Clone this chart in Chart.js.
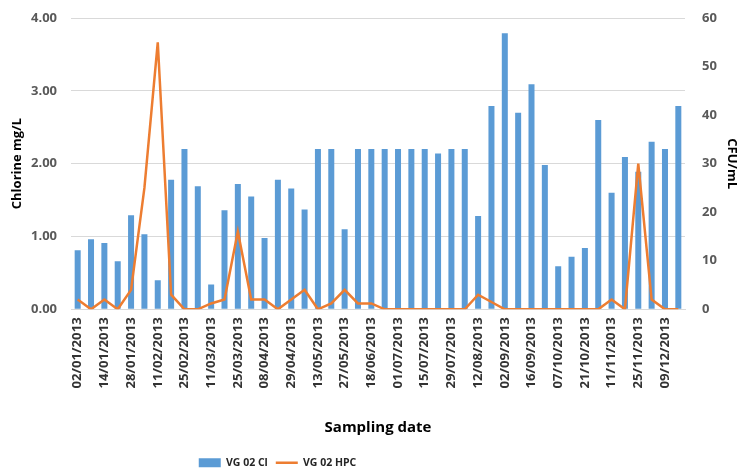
<!DOCTYPE html>
<html>
<head>
<meta charset="utf-8">
<script src="https://cdn.jsdelivr.net/npm/chart.js@4/dist/chart.umd.min.js"></script>
<style>
  html, body { margin: 0; padding: 0; background: #fff; }
  #chart { display: block; }
</style>
</head>
<body>
<canvas id="chart" width="737" height="471"></canvas>
<script>
// sampling dates (only every other one is labelled on the axis)
const dates = [
  '02/01/2013', '08/01/2013', '14/01/2013', '21/01/2013', '28/01/2013', '04/02/2013',
  '11/02/2013', '18/02/2013', '25/02/2013', '04/03/2013', '11/03/2013', '18/03/2013',
  '25/03/2013', '02/04/2013', '08/04/2013', '15/04/2013', '29/04/2013', '06/05/2013',
  '13/05/2013', '20/05/2013', '27/05/2013', '04/06/2013', '18/06/2013', '24/06/2013',
  '01/07/2013', '08/07/2013', '15/07/2013', '22/07/2013', '29/07/2013', '05/08/2013',
  '12/08/2013', '19/08/2013', '02/09/2013', '09/09/2013', '16/09/2013', '23/09/2013',
  '07/10/2013', '14/10/2013', '21/10/2013', '04/11/2013', '11/11/2013', '18/11/2013',
  '25/11/2013', '02/12/2013', '09/12/2013', '16/12/2013'
];

// chlorine, mg/L (left axis)
const chlorine = [
  0.81, 0.96, 0.91, 0.66, 1.29, 1.03, 0.40, 1.78, 2.20, 1.69, 0.34, 1.36,
  1.72, 1.55, 0.98, 1.78, 1.66, 1.37, 2.20, 2.20, 1.10, 2.20, 2.20, 2.20,
  2.20, 2.20, 2.20, 2.14, 2.20, 2.20, 1.28, 2.79, 3.79, 2.70, 3.09, 1.98,
  0.59, 0.72, 0.84, 2.60, 1.60, 2.09, 1.89, 2.30, 2.20, 2.79
];

// heterotrophic plate count, CFU/mL (right axis)
const hpc = [
  2, 0, 2, 0, 4, 25, 55, 3, 0, 0, 1.2, 2,
  16, 2, 2, 0, 2, 4, 0, 1.2, 4, 1.2, 1.2, 0,
  0, 0, 0, 0, 0, 0, 3, 1.5, 0, 0, 0, 0,
  0, 0, 0, 0, 2, 0, 30, 2, 0, 0
];

const tickFont = { family: 'Open Sans', size: 13, weight: 'bold' };
const titleFont = { family: 'Open Sans', size: 13, weight: 'bold' };

// Excel put the legend a bit left of centre, nudge it the same way
const legendShift = {
  id: 'legendShift',
  afterLayout(chart) {
    chart.legend.left -= 97;
    chart.legend.right -= 97;
  }
};

new Chart(document.getElementById('chart').getContext('2d'), {
  data: {
    labels: dates,
    datasets: [
      {
        type: 'bar',
        label: 'VG 02 Cl',
        data: chlorine,
        backgroundColor: '#5b9bd5',
        yAxisID: 'y',
        barPercentage: 0.45,
        categoryPercentage: 1,
        order: 1
      },
      {
        type: 'line',
        label: 'VG 02 HPC',
        data: hpc,
        borderColor: '#ed7d31',
        backgroundColor: '#ed7d31',
        borderWidth: 2.5,
        pointRadius: 0,
        tension: 0,
        yAxisID: 'y1',
        order: 0
      }
    ]
  },
  plugins: [legendShift],
  options: {
    responsive: false,
    animation: false,
    layout: { padding: { left: 9, right: -3, top: 18, bottom: -7 } },
    plugins: {
      tooltip: { enabled: false },
      legend: {
        position: 'bottom',
        labels: {
          usePointStyle: true,
          pointStyleWidth: 22,
          boxHeight: 9,
          padding: 8,
          color: '#262626',
          font: { family: 'Open Sans', size: 10.5, weight: 'bold' },
          sort: (a, b) => a.datasetIndex - b.datasetIndex,
          generateLabels: (chart) => {
            const items = Chart.defaults.plugins.legend.labels.generateLabels(chart);
            items.forEach(it => {
              it.pointStyle = it.datasetIndex === 0 ? 'rect' : 'line';
            });
            return items;
          }
        }
      }
    },
    scales: {
      x: {
        grid: { display: false, drawTicks: false },
        border: { display: true, color: '#d9d9d9' },
        ticks: {
          autoSkip: false,
          maxRotation: 90,
          minRotation: 90,
          padding: 8,
          color: '#333333',
          font: { family: 'Open Sans', size: 13.2, weight: 'bold' },
          callback: function (value, index) {
            return index % 2 === 0 ? this.getLabelForValue(value) : '';
          }
        },
        title: {
          display: true,
          text: 'Sampling date',
          color: '#000',
          font: { family: 'Open Sans', size: 15, weight: 'bold' },
          padding: { top: 22, bottom: 13 }
        }
      },
      y: {
        position: 'left',
        min: 0,
        max: 4,
        afterFit: (scale) => { scale.width = 62; scale.paddingTop = 0; },
        grid: { color: '#d9d9d9', drawTicks: false },
        border: { display: false },
        ticks: {
          stepSize: 1,
          padding: 14,
          color: '#595959',
          font: tickFont,
          callback: v => v.toFixed(2)
        },
        title: {
          display: true,
          text: 'Chlorine mg/L',
          color: '#000',
          font: titleFont,
          padding: 0
        }
      },
      y1: {
        position: 'right',
        min: 0,
        max: 60,
        afterFit: (scale) => { scale.width = 55; scale.paddingTop = 0; },
        grid: { display: false, drawTicks: false },
        border: { display: false },
        ticks: {
          stepSize: 10,
          padding: 17,
          color: '#595959',
          font: tickFont
        },
        title: {
          display: true,
          text: 'CFU/mL',
          color: '#000',
          font: titleFont,
          padding: 0
        }
      }
    }
  }
});
</script>
</body>
</html>
